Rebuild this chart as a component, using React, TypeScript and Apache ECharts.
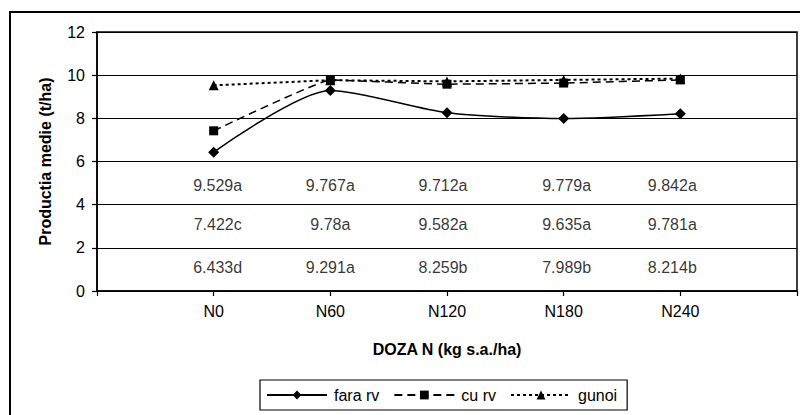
import React, { useEffect, useRef } from "react";
import * as echarts from "echarts";

// Nitrogen dose levels (padded with empty slots on both ends of the axis)
const doses = ["N0", "N60", "N120", "N180", "N240"];
const axisCategories = ["", ...doses, ""];

// Mean yield (t/ha) per treatment
const faraRv = [6.433, 9.291, 8.259, 7.989, 8.214];
const cuRv = [7.422, 9.78, 9.582, 9.635, 9.781];
const gunoi = [9.529, 9.767, 9.712, 9.779, 9.842];

// Significance letters for each value
const faraRvLetters = ["d", "a", "b", "b", "b"];
const cuRvLetters = ["c", "a", "a", "a", "a"];
const gunoiLetters = ["a", "a", "a", "a", "a"];

const yTicks = { min: 0, max: 12, interval: 2 };

const FONT = '"Liberation Sans", Arial, Helvetica, sans-serif';

// Vertical placement (in axis units) of the annotation rows inside the plot
const ROW_Y = { gunoi: 4.87, cuRv: 3.06, faraRv: 1.11 };
// Small horizontal nudges of annotation columns, in pixels
const COL_NUDGE = [4, 0, -4, 3, -8];

const pad = (arr: (number | null)[]) => [null, ...arr, null];

function labelSeries(name: string, values: number[], letters: string[], rowY: number) {
  return {
    name,
    type: "scatter",
    silent: true,
    symbolSize: 0,
    data: values.map((v, i) => ({
      value: [doses[i], rowY],
      label: { offset: [COL_NUDGE[i], 0] },
      text: `${v}${letters[i]}`,
    })),
    label: {
      show: true,
      position: "inside",
      color: "#000",
      fontFamily: FONT,
      fontSize: 16,
      formatter: (p: any) => p.data.text,
    },
    z: 5,
  };
}

export default function App() {
  const ref = useRef<HTMLDivElement>(null);

  useEffect(() => {
    if (!ref.current) return;
    const chart = echarts.init(ref.current, undefined, { renderer: "svg" });
    chart.setOption({
      animation: false,
      backgroundColor: "#fff",
      textStyle: { fontFamily: FONT, color: "#000" },
      graphic: [
        {
          type: "rect",
          shape: { x: 10, y: 12, width: 820, height: 420 },
          style: { fill: "none", stroke: "#000", lineWidth: 2 },
          silent: true,
        },
      ],
      grid: {
        left: 97,
        top: 32,
        right: 3,
        bottom: 124,
        show: true,
        borderColor: "#000",
        borderWidth: 1.5,
      },
      legend: {
        left: 260,
        top: 380,
        padding: [7, 10, 7, 6],
        borderColor: "#000",
        borderWidth: 1.2,
        itemWidth: 60,
        itemHeight: 11,
        itemGap: 14,
        data: ["fara rv", "cu rv", "gunoi"],
        textStyle: { fontFamily: FONT, fontSize: 16, color: "#000", padding: [0, 0, 0, 2] },
      },
      xAxis: {
        type: "category",
        data: axisCategories,
        boundaryGap: false,
        name: "DOZA N (kg s.a./ha)",
        nameLocation: "middle",
        nameGap: 50,
        nameTextStyle: { fontFamily: FONT, fontSize: 16, fontWeight: "bold", color: "#000" },
        axisLine: { lineStyle: { color: "#000", width: 1.5 } },
        axisTick: { show: true, length: 5, interval: 0, lineStyle: { color: "#000", width: 1.2 } },
        axisLabel: { interval: 0, margin: 12, fontSize: 16, color: "#000", fontFamily: FONT },
        splitLine: { show: false },
      },
      yAxis: {
        type: "value",
        min: yTicks.min,
        max: yTicks.max,
        interval: yTicks.interval,
        name: "Productia medie (t/ha)",
        nameLocation: "middle",
        nameGap: 44,
        nameTextStyle: { fontFamily: FONT, fontSize: 16, fontWeight: "bold", color: "#000" },
        axisLine: { show: true, lineStyle: { color: "#000", width: 1.5 } },
        axisTick: { show: true, length: 5, lineStyle: { color: "#000", width: 1.2 } },
        axisLabel: { margin: 12, fontSize: 16, color: "#000", fontFamily: FONT },
        splitLine: { show: true, lineStyle: { color: "#000", width: 1.2 } },
      },
      series: [
        {
          name: "fara rv",
          type: "line",
          data: pad(faraRv),
          smooth: 0.25,
          symbol: "diamond",
          symbolSize: 11,
          showSymbol: true,
          itemStyle: { color: "#000" },
          lineStyle: { color: "#000", width: 1.5, type: "solid" },
          z: 3,
        },
        {
          name: "cu rv",
          type: "line",
          data: pad(cuRv),
          smooth: 0.08,
          symbol: "rect",
          symbolSize: 9,
          itemStyle: { color: "#000" },
          lineStyle: { color: "#000", width: 1.5, type: [8, 5] },
          z: 3,
        },
        {
          name: "gunoi",
          type: "line",
          data: pad(gunoi),
          symbol: "triangle",
          symbolSize: 10,
          itemStyle: { color: "#000" },
          lineStyle: { color: "#000", width: 2, type: [3, 3] },
          z: 3,
        },
        labelSeries("gunoi-labels", gunoi, gunoiLetters, ROW_Y.gunoi),
        labelSeries("cu-rv-labels", cuRv, cuRvLetters, ROW_Y.cuRv),
        labelSeries("fara-rv-labels", faraRv, faraRvLetters, ROW_Y.faraRv),
      ],
    });
    return () => chart.dispose();
  }, []);

  return (
    <div
      ref={ref}
      style={{ position: "fixed", left: 0, top: 0, width: 800, height: 415 }}
    />
  );
}
